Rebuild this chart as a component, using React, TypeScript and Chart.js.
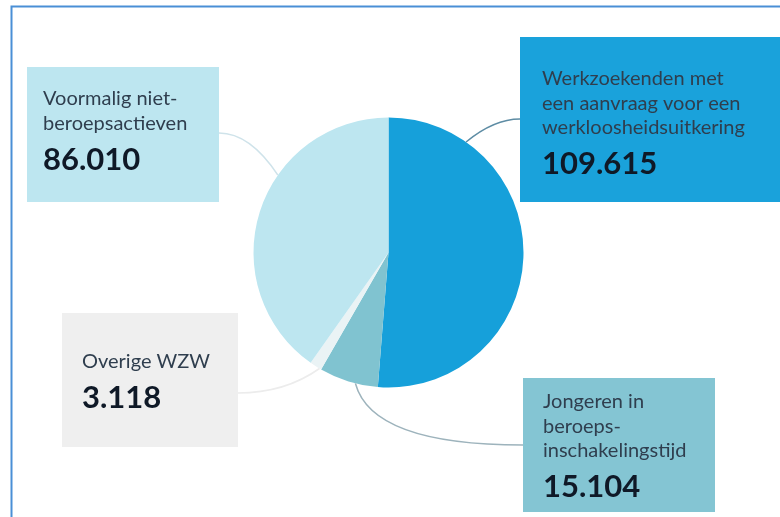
import React, { useEffect, useRef } from "react";
import { Chart, registerables } from "chart.js";

Chart.register(...registerables);

const categories = [
  "Werkzoekenden met een aanvraag voor een werkloosheidsuitkering",
  "Jongeren in beroepsinschakelingstijd",
  "Overige WZW",
  "Voormalig niet-beroepsactieven",
];
const values = [109615, 15104, 3118, 86010];
const labelLines = [
  ["Werkzoekenden met", "een aanvraag voor een", "werkloosheidsuitkering"],
  ["Jongeren in", "beroeps-", "inschakelingstijd"],
  ["Overige WZW"],
  ["Voormalig niet-", "beroepsactieven"],
];
const sliceColors = ["#16a0da", "#80c3d0", "#eaf3f5", "#bde6f0"];
const boxColors = ["#1aa2db", "#84c5d3", "#efefef", "#bde6f0"];
const lineColors = ["#5d8ca4", "#9db3bc", "#ececec", "#cfe3ea"];

// layout of callout boxes (x, y, w, h, text x, first baseline)
const boxes = [
  { x: 520, y: 37, w: 262, h: 165, tx: 542, ty: 85, ax: 520, ay: 119, cx: 494, frac: 0.19 },
  { x: 523, y: 378, w: 192, h: 134, tx: 543, ty: 408, ax: 523, ay: 445, cx: 372, frac: 0.38 },
  { x: 62, y: 313, w: 176, h: 134, tx: 82, ty: 368, ax: 238, ay: 393, cx: 285, frac: 0.15 },
  { x: 27, y: 67, w: 192, h: 135, tx: 43, ty: 105, ax: 219, ay: 133, cx: 250, frac: 0.62 },
];

function fmt(n: number): string {
  return String(n).replace(/\B(?=(\d{3})+(?!\d))/g, ".");
}

const calloutPlugin = {
  id: "callouts",
  afterDraw(chart: any) {
    const ctx = chart.ctx as CanvasRenderingContext2D;
    const meta = chart.getDatasetMeta(0);
    ctx.save();
    // frame
    ctx.strokeStyle = "#4a8fd6";
    ctx.lineWidth = 2;
    ctx.beginPath();
    ctx.moveTo(11.5, 520);
    ctx.lineTo(11.5, 6.5);
    ctx.lineTo(790, 6.5);
    ctx.stroke();

    meta.data.forEach((arc: any, i: number) => {
      const b = boxes[i];
      const p = arc.getProps(["x", "y", "startAngle", "endAngle", "outerRadius"], true);
      const ang = p.startAngle + (p.endAngle - p.startAngle) * b.frac;
      const px = p.x + Math.cos(ang) * p.outerRadius;
      const py = p.y + Math.sin(ang) * p.outerRadius;
      ctx.strokeStyle = lineColors[i];
      ctx.lineWidth = 1.6;
      ctx.beginPath();
      ctx.moveTo(px, py);
      ctx.quadraticCurveTo(b.cx, b.ay, b.ax, b.ay);
      ctx.stroke();

      ctx.fillStyle = boxColors[i];
      ctx.fillRect(b.x, b.y, b.w, b.h);

      ctx.textBaseline = "alphabetic";
      ctx.textAlign = "left";
      ctx.fillStyle = "#2f3e4e";
      ctx.font = "20px Lato";
      const lines = labelLines[i];
      lines.forEach((l, k) => ctx.fillText(l, b.tx, b.ty + k * 24.5));
      ctx.fillStyle = "#0f1927";
      ctx.font = "bold 31px Lato";
      ctx.fillText(fmt(values[i]), b.tx, b.ty + (lines.length - 1) * 24.5 + 40);
    });
    ctx.restore();
  },
};

export default function App() {
  const ref = useRef<HTMLCanvasElement>(null);
  useEffect(() => {
    document.body.style.margin = "0";
    const chart = new Chart(ref.current!, {
      type: "pie",
      data: {
        labels: categories,
        datasets: [
          {
            data: values,
            backgroundColor: sliceColors,
            borderWidth: 0,
          },
        ],
      },
      options: {
        animation: false,
        responsive: false,
        layout: { padding: { left: 253.5, right: 256.5, top: 117.5, bottom: 129.5 } },
        plugins: {
          legend: { display: false },
          tooltip: { enabled: false },
        },
      },
      plugins: [calloutPlugin],
    });
    return () => chart.destroy();
  }, []);
  return (
    <div style={{ width: 780, height: 517, background: "#fff" }}>
      <canvas ref={ref} width={780} height={517} style={{ display: "block" }} />
    </div>
  );
}
